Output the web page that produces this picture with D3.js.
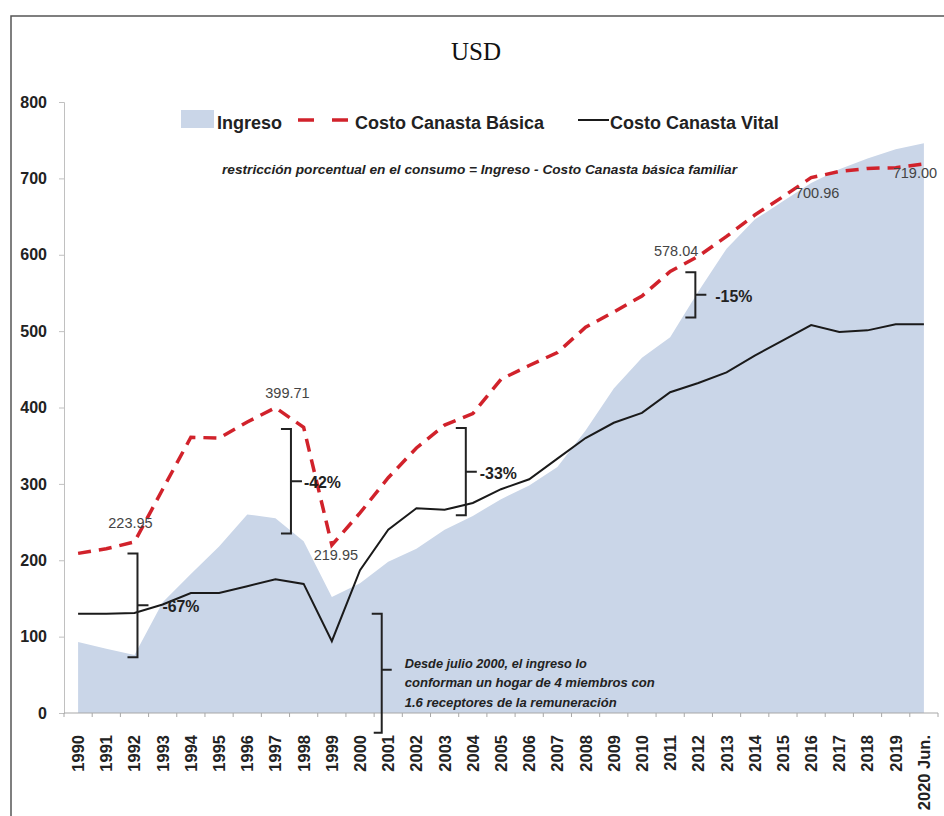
<!DOCTYPE html>
<html>
<head>
<meta charset="utf-8">
<script src="https://cdn.jsdelivr.net/npm/d3@7"></script>
<style>
  html, body { margin: 0; padding: 0; background: #fff; }
  svg { display: block; }
</style>
</head>
<body>
<svg id="chart" width="944" height="816"></svg>
<script>
// ---------- DATA ----------
const years = ["1990","1991","1992","1993","1994","1995","1996","1997","1998","1999",
  "2000","2001","2002","2003","2004","2005","2006","2007","2008","2009",
  "2010","2011","2012","2013","2014","2015","2016","2017","2018","2019","2020 Jun."];

const ingreso = [93, 84, 76, 145, 182, 218, 260, 255, 225, 152,
  170, 198, 215, 240, 258, 280, 298, 322, 370, 425,
  465, 492, 552, 608, 646, 670, 694, 712, 726, 738, 746];

const canastaBasica = [209, 215, 223.95, 293, 361, 360, 381, 399.71, 374, 219.95,
  262, 308, 347, 377, 392, 437, 455, 472, 505, 525,
  546, 578.04, 598, 624, 652, 676, 700.96, 709, 713, 714, 719.00];

const canastaVital = [130, 130, 131, 142, 157, 157, 166, 175, 169, 94,
  187, 240, 268, 266, 275, 293, 306, 333, 360, 380,
  393, 420, 432, 446, 468, 488, 508, 499, 501, 509, 509];

const yTicks = [0, 100, 200, 300, 400, 500, 600, 700, 800];

const seriesNames = ["Ingreso", "Costo Canasta Básica", "Costo Canasta Vital"];

// value labels on Costo Canasta Básica
const valueLabels = [
  { year: "1992", value: 223.95, text: "223.95" },
  { year: "1997", value: 399.71, text: "399.71" },
  { year: "1999", value: 219.95, text: "219.95" },
  { year: "2011", value: 578.04, text: "578.04" },
  { year: "2016", value: 700.96, text: "700.96" },
  { year: "2020 Jun.", value: 719.00, text: "719.00" }
];

// gap brackets: [year, top value, bottom value, label]
const brackets = [
  { year: "1992", top: 209, bottom: 73, label: "-67%" },
  { year: "1997", top: 372, bottom: 235, label: "-42%" },
  { year: "2004", top: 373, bottom: 259, label: "-33%" },
  { year: "2012", top: 577, bottom: 518, label: "-15%" }
];

const title = "USD";
const formulaText = "restricción porcentual en el consumo =  Ingreso -  Costo Canasta básica familiar";
const noteYear = "2001";
const noteRange = [130, -26];
const noteLines = [
  "Desde julio 2000,  el ingreso lo",
  "conforman  un hogar de 4 miembros con",
  "1.6 receptores  de la remuneración"
];

// ---------- DRAW ----------
const svg = d3.select("#chart");
const FONT = "'Liberation Sans', Arial, sans-serif";

// frame
svg.append("path")
  .attr("d", "M11,830 L11,16 L950,16")
  .attr("fill", "none").attr("stroke", "#555").attr("stroke-width", 1.5);

const x = d3.scaleBand().domain(years).range([64, 938]).paddingInner(0).paddingOuter(0);
const cx = d => x(d) + x.bandwidth() / 2;
const y = d3.scaleLinear().domain([0, 800]).range([713, 102]);

// area
const area = d3.area()
  .x((d, i) => cx(years[i]))
  .y0(y(0))
  .y1(d => y(d));
svg.append("path").datum(ingreso)
  .attr("d", area)
  .attr("fill", "#cad6e8");

// axes
const yAxis = d3.axisLeft(y).tickValues(yTicks).tickSize(5).tickPadding(12);
const gy = svg.append("g").attr("transform", "translate(64,0)").call(yAxis);
gy.select(".domain").attr("stroke", "#c0c0c0");
gy.selectAll(".tick line").attr("stroke", "#c0c0c0");
gy.selectAll(".tick text")
  .attr("font-family", FONT).attr("font-size", 16).attr("font-weight", "bold")
  .attr("fill", "#222");

const xAxisG = svg.append("g").attr("transform", `translate(0,${y(0)})`);
xAxisG.append("line").attr("x1", 64).attr("x2", 938).attr("y1", 0).attr("y2", 0)
  .attr("stroke", "#a8a8a8").attr("stroke-width", 1.2);
const bounds = years.map(d => x(d)).concat([x(years[years.length - 1]) + x.bandwidth()]);
xAxisG.selectAll("line.tk").data(bounds).enter().append("line")
  .attr("class", "tk")
  .attr("x1", d => d).attr("x2", d => d).attr("y1", 0).attr("y2", 4)
  .attr("stroke", "#a8a8a8");
svg.append("g").selectAll("text").data(years).enter().append("text")
  .attr("transform", d => `translate(${cx(d)},735) rotate(-90)`)
  .attr("text-anchor", "end")
  .attr("dy", "0.36em")
  .attr("font-family", FONT).attr("font-size", 16.5).attr("font-weight", "bold")
  .attr("fill", "#222")
  .text(d => d);

// lines
const line = d3.line().x((d, i) => cx(years[i])).y(d => y(d));
svg.append("path").datum(canastaVital)
  .attr("d", line).attr("fill", "none")
  .attr("stroke", "#1a1a1a").attr("stroke-width", 2);
svg.append("path").datum(canastaBasica)
  .attr("d", line).attr("fill", "none")
  .attr("stroke", "#d1222b").attr("stroke-width", 3.5)
  .attr("stroke-dasharray", "13,8");

// value labels
const labelOffsets = {
  "223.95": [-4, -14], "399.71": [12, -10], "219.95": [4, 15],
  "578.04": [6, -16], "700.96": [6, 20], "719.00": [-9, 14]
};
svg.append("g").selectAll("text").data(valueLabels).enter().append("text")
  .attr("x", d => cx(d.year) + labelOffsets[d.text][0])
  .attr("y", d => y(d.value) + labelOffsets[d.text][1])
  .attr("text-anchor", "middle")
  .attr("font-family", FONT).attr("font-size", 14.5)
  .attr("fill", "#444")
  .text(d => d.text);

// brackets
const bracketDx = { "1992": 3, "1997": 15.5, "2004": -7, "2012": -3 };
const labelDx = { "1992": 25, "1997": 13, "2004": 14, "2012": 20 };
const bg = svg.append("g");
brackets.forEach(b => {
  const bx = cx(b.year) + bracketDx[b.year];
  const yt = y(b.top), yb = y(b.bottom), ym = (yt + yb) / 2;
  bg.append("path")
    .attr("d", `M${bx - 10},${yt} L${bx},${yt} L${bx},${yb} L${bx - 10},${yb} M${bx},${ym} L${bx + 11},${ym}`)
    .attr("fill", "none").attr("stroke", "#222").attr("stroke-width", 2);
  bg.append("text")
    .attr("x", bx + labelDx[b.year]).attr("y", ym + 7)
    .attr("font-family", FONT).attr("font-size", 16).attr("font-weight", "bold")
    .attr("fill", "#222")
    .attr("textLength", 37).attr("lengthAdjust", "spacingAndGlyphs")
    .text(b.label);
});

// note bracket
{
  const bx = cx(noteYear) - 6.5;
  const yt = y(noteRange[0]), yb = y(noteRange[1]);
  const ym = yt + 56;
  svg.append("path")
    .attr("d", `M${bx - 10},${yt} L${bx},${yt} L${bx},${yb} L${bx - 8},${yb} M${bx},${ym} L${bx + 10},${ym}`)
    .attr("fill", "none").attr("stroke", "#222").attr("stroke-width", 2);
  const widths = [182, 250, 212];
  noteLines.forEach((t, i) => {
    svg.append("text")
      .attr("x", bx + 23).attr("y", yt + 54 + i * 19.5)
      .attr("font-family", FONT).attr("font-size", 12.5)
      .attr("font-weight", "bold").attr("font-style", "italic")
      .attr("fill", "#222")
      .attr("textLength", widths[i]).attr("lengthAdjust", "spacingAndGlyphs")
      .text(t);
  });
}

// title
svg.append("text")
  .attr("x", 476).attr("y", 60).attr("text-anchor", "middle")
  .attr("font-family", "'Liberation Serif', 'Times New Roman', serif")
  .attr("font-size", 25).attr("fill", "#111")
  .text(title);

// formula text
svg.append("text")
  .attr("x", 222).attr("y", 174)
  .attr("font-family", FONT).attr("font-size", 13)
  .attr("font-weight", "bold").attr("font-style", "italic")
  .attr("fill", "#222")
  .attr("textLength", 515).attr("lengthAdjust", "spacingAndGlyphs")
  .text(formulaText);

// legend
const lg = svg.append("g");
lg.append("rect").attr("x", 181).attr("y", 110).attr("width", 33).attr("height", 18)
  .attr("fill", "#cad6e8");
lg.append("text").attr("x", 217).attr("y", 128.5)
  .attr("font-family", FONT).attr("font-size", 18).attr("font-weight", "bold").attr("fill", "#222")
  .text(seriesNames[0]);
lg.append("line").attr("x1", 298).attr("x2", 350).attr("y1", 120).attr("y2", 120)
  .attr("stroke", "#d1222b").attr("stroke-width", 3.5).attr("stroke-dasharray", "16,18");
lg.append("text").attr("x", 355).attr("y", 128.5)
  .attr("font-family", FONT).attr("font-size", 18).attr("font-weight", "bold").attr("fill", "#222")
  .text(seriesNames[1]);
lg.append("line").attr("x1", 578).attr("x2", 609).attr("y1", 120).attr("y2", 120)
  .attr("stroke", "#1a1a1a").attr("stroke-width", 2);
lg.append("text").attr("x", 610).attr("y", 128.5)
  .attr("font-family", FONT).attr("font-size", 18).attr("font-weight", "bold").attr("fill", "#222")
  .text(seriesNames[2]);
</script>
</body>
</html>
